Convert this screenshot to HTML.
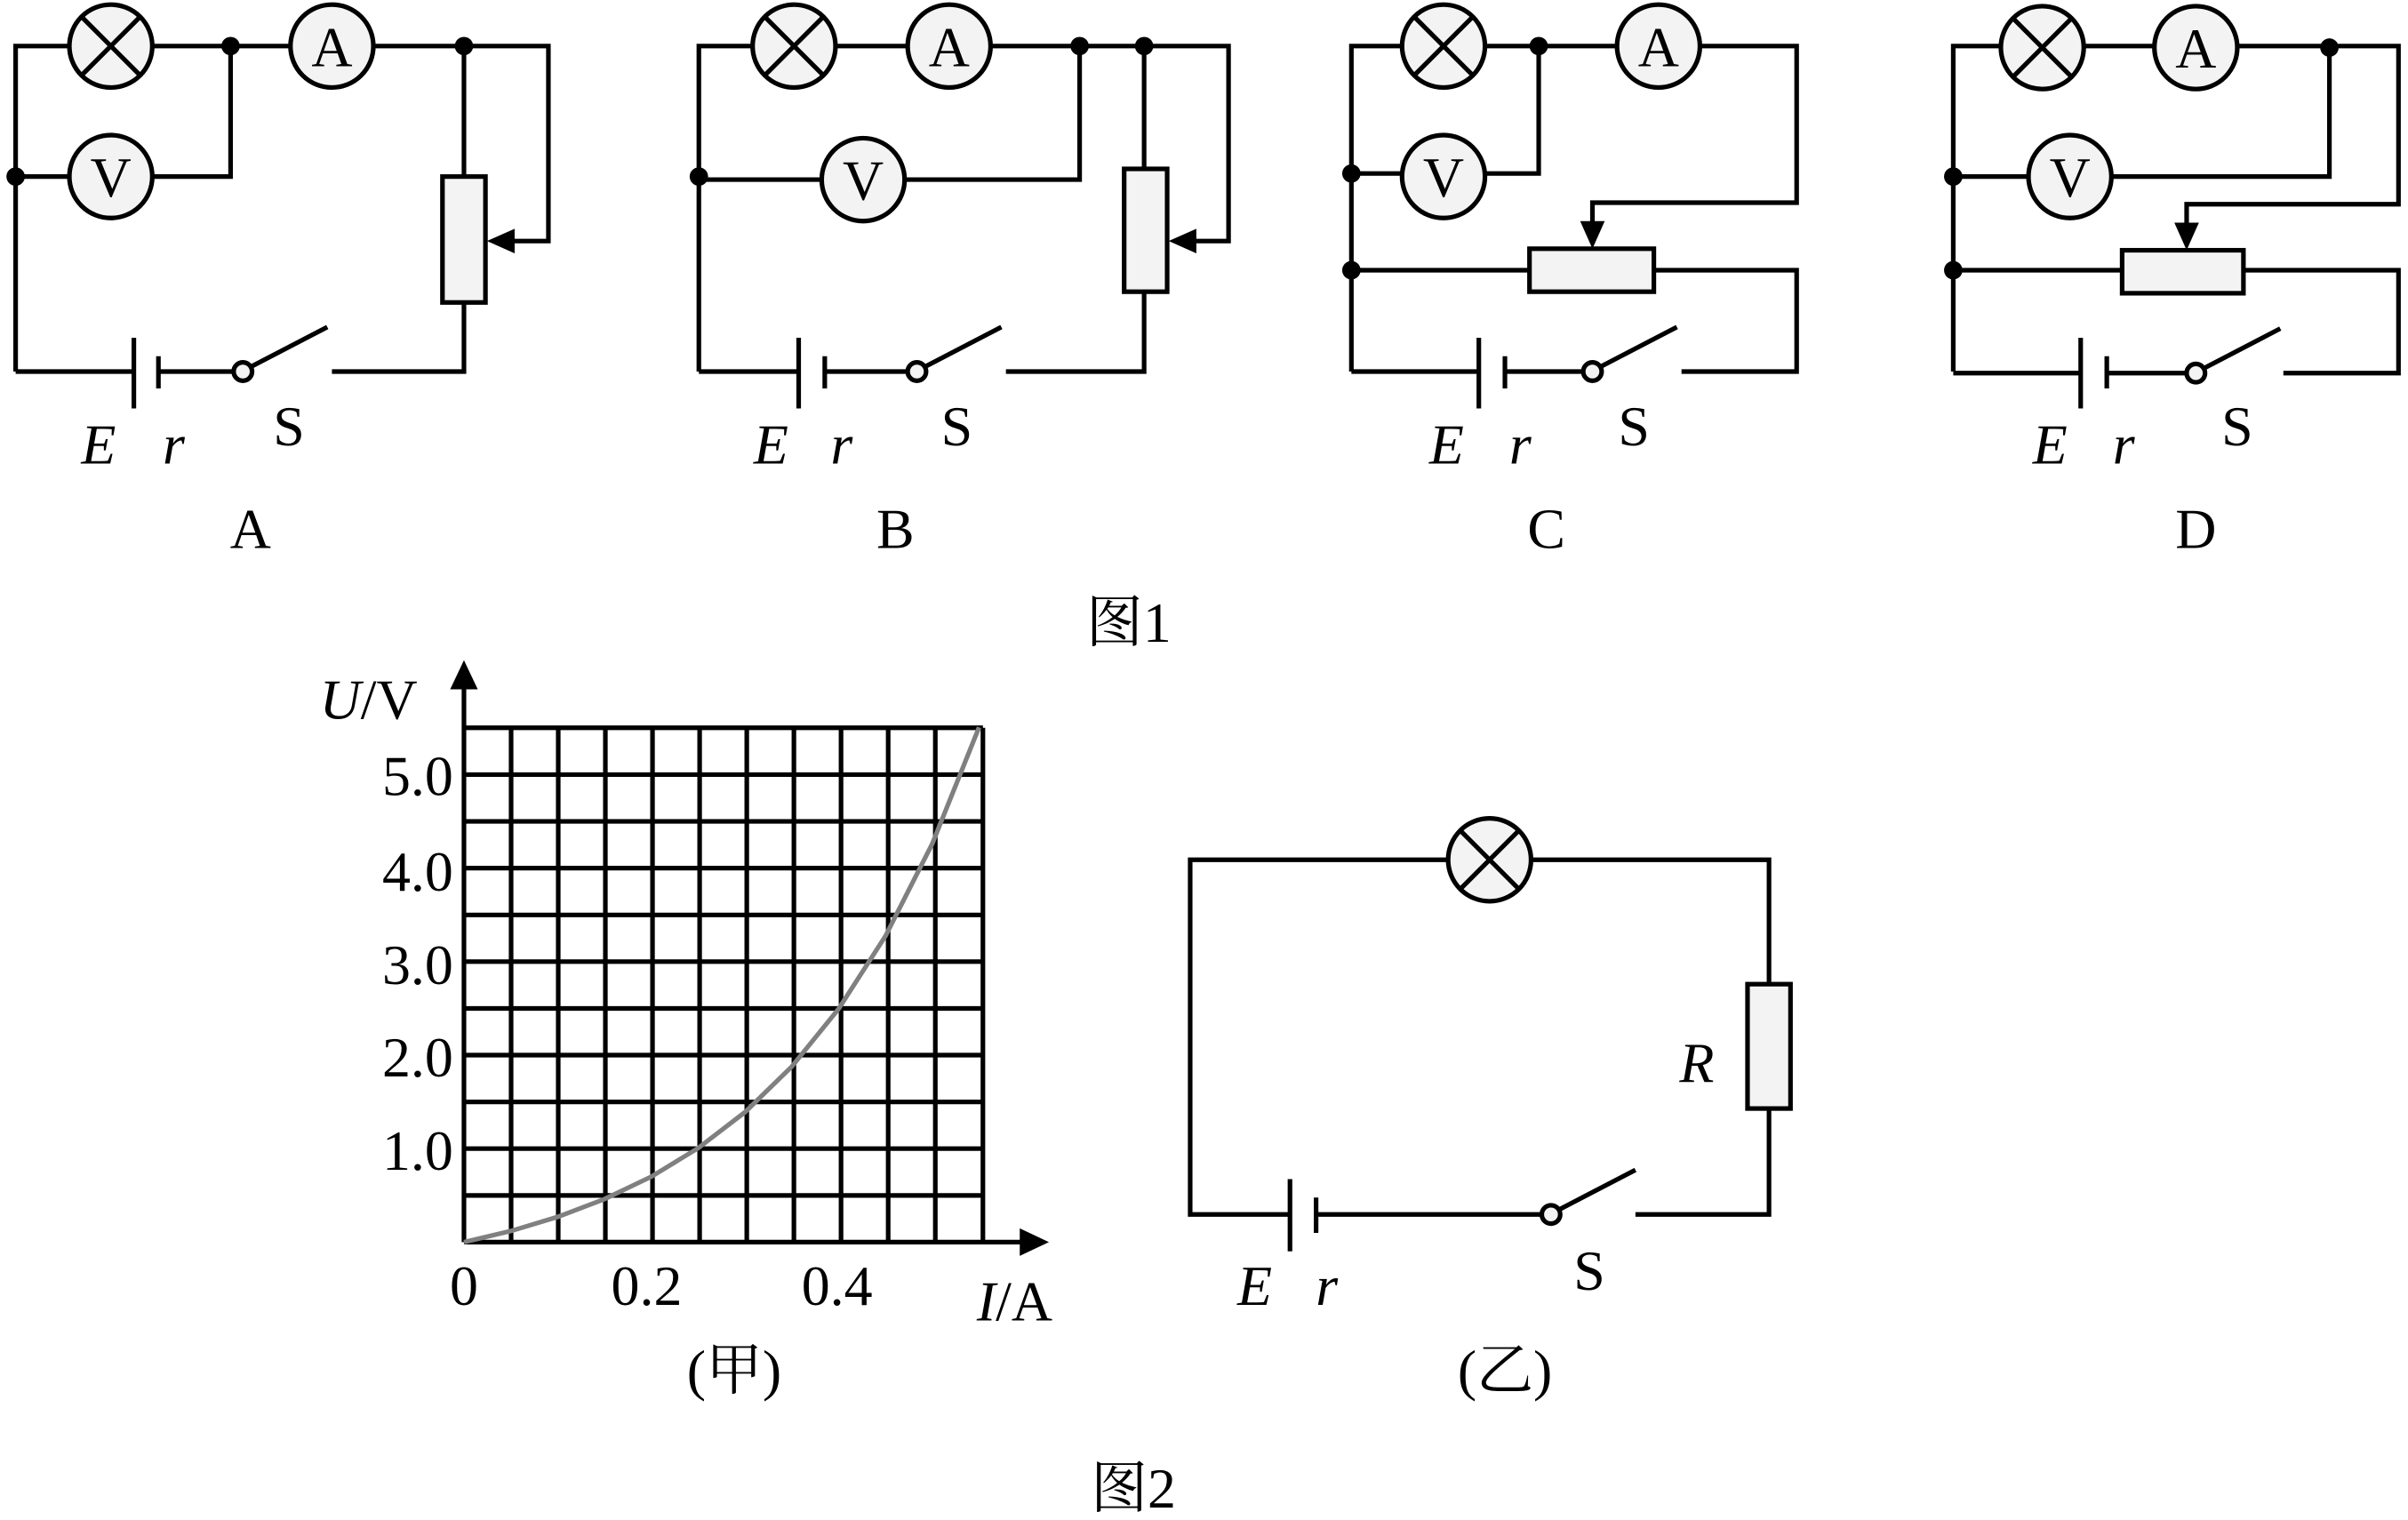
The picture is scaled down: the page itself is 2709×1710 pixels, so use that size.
<!DOCTYPE html>
<html><head><meta charset="utf-8"><style>
html,body{margin:0;padding:0;background:#fff;}
svg{display:block;}
text{font-family:"Liberation Serif","Noto Serif CJK SC",serif;font-size:37px;fill:#000;}
.i{font-style:italic;}
</style></head><body>
<svg width="2709" height="1710" viewBox="0 0 1568 990" xmlns="http://www.w3.org/2000/svg">
<defs>
<g id="lamp"><circle r="27" fill="#f3f3f3" stroke="#000" stroke-width="3"/><path d="M-19,-19L19,19M19,-19L-19,19" stroke="#000" stroke-width="3"/></g>
<g id="met"><circle r="27" fill="#f3f3f3" stroke="#000" stroke-width="3"/></g>
<g id="sw"><circle r="6" fill="#f3f3f3" stroke="#000" stroke-width="3"/><path d="M5,-3L55,-29" stroke="#000" stroke-width="3"/></g>
</defs>
<g fill="none" stroke="#000" stroke-width="3">
<!-- A -->
<path d="M10,242V30H357V157H330M10,115H150V30M302,30V242H216M152,242H103M87,242H10"/>
<rect x="288" y="115" width="28" height="82" fill="#f3f3f3"/>
<path d="M87,220V266M103,232V253"/>
<!-- B -->
<path d="M455,242V30H800V157H775M455,117H703V30M745,30V242H655M591,242H537M520,242H455"/>
<rect x="732" y="110" width="28" height="80" fill="#f3f3f3"/>
<path d="M520,220V266M537,232V253"/>
<!-- C -->
<path d="M880,242V30H1170V132H1037V150M880,113H1002V30M880,176H1170V242H1095M1031,242H980M963,242H880"/>
<rect x="996" y="162" width="81" height="28" fill="#f3f3f3"/>
<path d="M963,220V266M980,232V253"/>
<!-- D -->
<path d="M1272,242V30H1562V133H1424V150M1272,115H1517V30M1272,176H1562V243H1487M1424,243H1372M1355,243H1272"/>
<rect x="1382" y="163" width="79" height="28" fill="#f3f3f3"/>
<path d="M1355,220V266M1372,232V253"/>
<!-- 乙 -->
<path d="M840,791H775V560H1152V791H1065M1004,791H857"/>
<rect x="1138" y="641" width="28" height="81" fill="#f3f3f3"/>
<path d="M840,768V815M857,780V803"/>
</g>
<g fill="#000">
<path d="M317,157L335,149L335,165Z"/>
<path d="M761,157L779,149L779,165Z"/>
<path d="M1037,162L1029,144L1045,144Z"/>
<path d="M1424,163L1416,145L1432,145Z"/>
<circle cx="150" cy="30" r="6"/><circle cx="302" cy="30" r="6"/><circle cx="10" cy="115" r="6"/>
<circle cx="703" cy="30" r="6"/><circle cx="745" cy="30" r="6"/><circle cx="455" cy="115" r="6"/>
<circle cx="1002" cy="30" r="6"/><circle cx="880" cy="113" r="6"/><circle cx="880" cy="176" r="6"/>
<circle cx="1517" cy="31" r="6"/><circle cx="1272" cy="115" r="6"/><circle cx="1272" cy="176" r="6"/>
</g>
<use href="#lamp" x="72" y="30"/><use href="#met" x="216" y="30"/><use href="#met" x="72" y="115"/>
<use href="#lamp" x="517" y="30"/><use href="#met" x="618" y="30"/><use href="#met" x="562" y="117"/>
<use href="#lamp" x="940" y="30"/><use href="#met" x="1080" y="30"/><use href="#met" x="940" y="115"/>
<use href="#lamp" x="1330" y="31"/><use href="#met" x="1430" y="31"/><use href="#met" x="1348" y="115"/>
<use href="#lamp" x="970" y="560"/>
<use href="#sw" x="158" y="242"/><use href="#sw" x="597" y="242"/><use href="#sw" x="1037" y="242"/><use href="#sw" x="1430" y="243"/><use href="#sw" x="1010" y="791"/>
<g text-anchor="middle">
<text x="216" y="43">A</text><text x="72" y="128">V</text>
<text x="618" y="43">A</text><text x="562" y="130">V</text>
<text x="1080" y="43">A</text><text x="940" y="128">V</text>
<text x="1430" y="44">A</text><text x="1348" y="128">V</text>
<text class="i" x="64" y="302">E</text><text class="i" x="113" y="302">r</text><text x="188" y="290">S</text><text x="163" y="357">A</text>
<text class="i" x="502" y="302">E</text><text class="i" x="548" y="302">r</text><text x="623" y="290">S</text><text x="583" y="357">B</text>
<text class="i" x="942" y="302">E</text><text class="i" x="990" y="302">r</text><text x="1064" y="290">S</text><text x="1007" y="357">C</text>
<text class="i" x="1335" y="302">E</text><text class="i" x="1383" y="302">r</text><text x="1457" y="290">S</text><text x="1430" y="357">D</text>
<text x="735" y="418">图1</text>
<text class="i" x="817" y="850">E</text><text class="i" x="864" y="850">r</text><text x="1035" y="840">S</text><text class="i" x="1105" y="705">R</text>
<text x="980" y="905">(乙)</text><text x="478" y="905">(甲)</text><text x="738" y="982">图2</text>
<text x="302" y="850">0</text><text x="421" y="850">0.2</text><text x="545" y="850">0.4</text>
</g>
<g stroke="#000" stroke-width="3" fill="none">
<path d="M332.7,474V809M363.4,474V809M394.1,474V809M424.8,474V809M455.5,474V809M486.2,474V809M516.9,474V809M547.6,474V809M578.3,474V809M609,474V809M640,474V809"/>
<path d="M302,474H640M302,504.5H640M302,535H640M302,565.4H640M302,595.9H640M302,626.3H640M302,656.8H640M302,687.2H640M302,717.7H640M302,748.1H640M302,778.6H640"/>
<path d="M302,809H672M302,809V442"/>
</g>
<path d="M683,809L664,800L664,818Z M302,430L293,449L311,449Z" fill="#000"/>
<polyline fill="none" stroke="#808080" stroke-width="3" points="302,809 332.5,801.8 363,792.6 393.5,781 424,766.4 454.5,747.8 485,724.4 515.5,694.7 546,657.1 576.5,609.7 607,549.6 637.5,473.7"/>
<g text-anchor="end">
<text x="295" y="518">5.0</text><text x="295" y="580">4.0</text><text x="295" y="641">3.0</text><text x="295" y="701">2.0</text><text x="295" y="762">1.0</text>
</g>
<text x="208" y="468"><tspan class="i">U</tspan>/V</text>
<text x="636" y="860"><tspan class="i">I</tspan>/A</text>
</svg>
</body></html>
